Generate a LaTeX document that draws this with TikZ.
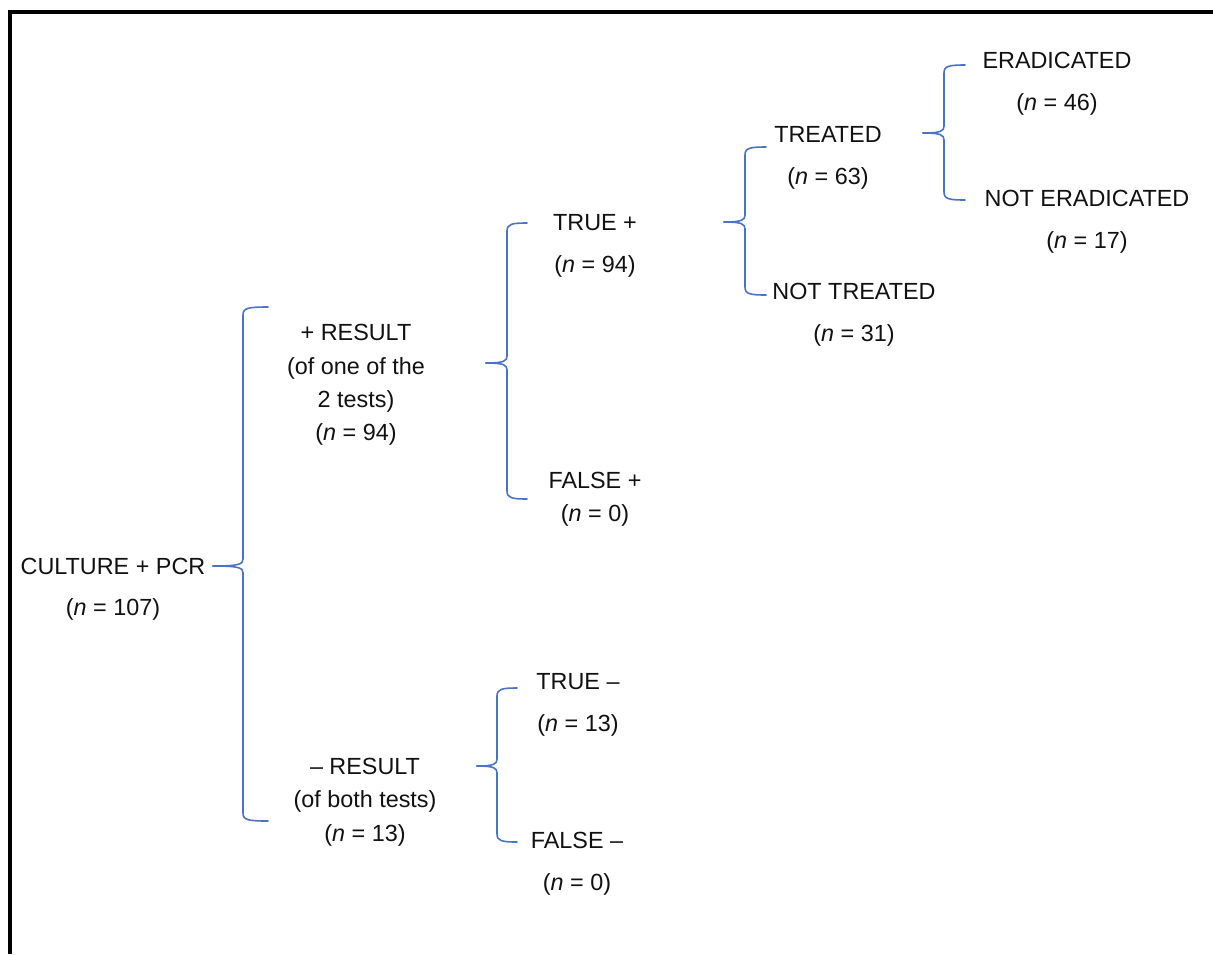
\documentclass[tikz,border=0pt]{standalone}
\usepackage{fontspec}
\setmainfont{Liberation Sans}
\usepackage{tikz}
\definecolor{braceblue}{HTML}{4A72C6}
\definecolor{ink}{HTML}{111111}
\tikzset{
  item/.style  = {align=center, inner sep=0pt, text=ink,
                  font=\fontsize{13.3}{19}\selectfont},
  split/.style = {draw=braceblue, line width=0.9pt, line cap=round},
  frame/.style = {draw=black, line width=2.4pt},
}
% #1 x, #2 top, #3 tip, #4 bottom, #5 arm, #6 tip length (pixel units)
\newcommand{\splitbrace}[6]{%
  \draw[split] (#1+#5,#2) .. controls (#1+5,#2) and (#1,#2+1) .. (#1,#2+8)
    -- (#1,#3-7) .. controls (#1,#3-2) and (#1-3,#3) .. (#1-#6,#3);
  \draw[split] (#1-#6,#3) .. controls (#1-3,#3) and (#1,#3+2) .. (#1,#3+7)
    -- (#1,#4-8) .. controls (#1,#4-1) and (#1+5,#4) .. (#1+#5,#4);
}

\begin{document}
\begin{tikzpicture}[x=0.02cm, y=-0.02cm]
  \useasboundingbox (0,0) rectangle (1213,954);
  \draw[frame] (10,954) -- (10,12) -- (1213,12);

  % root
  \node[item] (root) at (113,589) {CULTURE + PCR\\[4.5pt](\textit{n} = 107)};
  \splitbrace{243}{307}{566}{821}{25}{30}

  % level 1
  \node[item] (pos) at (356,385) {+ RESULT\\(of one of the\\2 tests)\\(\textit{n} = 94)};
  \node[item] (neg) at (365,802) {– RESULT\\(of both tests)\\(\textit{n} = 13)};
  \splitbrace{507}{223}{363}{499}{20}{21}
  \splitbrace{497}{688}{766}{842}{20}{20}

  % level 2
  \node[item] (truepos)  at (595,246) {TRUE +\\[5pt](\textit{n} = 94)};
  \node[item] (falsepos) at (595,499) {FALSE +\\(\textit{n} = 0)};
  \node[item] (trueneg)  at (578,705) {TRUE –\\[5pt](\textit{n} = 13)};
  \node[item] (falseneg) at (577,864) {FALSE –\\[5pt](\textit{n} = 0)};
  \splitbrace{745}{147}{222}{295}{21}{21}

  % level 3
  \node[item] (treated)    at (828,158) {TREATED\\[5pt](\textit{n} = 63)};
  \node[item] (nottreated) at (854,315) {NOT TREATED\\[5pt](\textit{n} = 31)};
  \splitbrace{944}{65}{133}{200}{21}{21}

  % level 4
  \node[item] (erad)    at (1057,84)  {ERADICATED\\[5pt](\textit{n} = 46)};
  \node[item] (noterad) at (1087,222) {NOT ERADICATED\\[5pt](\textit{n} = 17)};
\end{tikzpicture}
\end{document}
